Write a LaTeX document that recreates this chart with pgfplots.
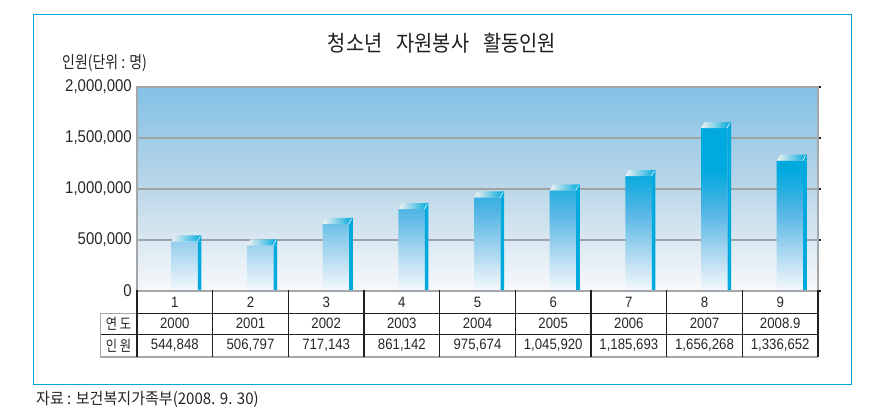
\documentclass[border=0pt]{standalone}
\usepackage{fontspec}
\usepackage{pgfplots}
\pgfplotsset{compat=1.18}
\usepackage{pgfplotstable}
\setmainfont{Liberation Sans}[FakeStretch=0.88]
\newfontfamily\kr{Noto Sans CJK KR}[FakeStretch=0.82]
\newfontfamily\krt{Noto Sans CJK KR}[FakeStretch=0.9]
\newfontfamily\krw{Noto Sans CJK KR}[FakeStretch=0.94]
\definecolor{framec}{HTML}{00A6DB}
\definecolor{barc}{HTML}{00A9DE}
\definecolor{barmid}{HTML}{4FB4E4}
\definecolor{barlow}{HTML}{A6D6EF}
\definecolor{barbot}{HTML}{F6F9FC}
\definecolor{bgtop}{HTML}{82C1E6}
\definecolor{bgmid}{HTML}{BCD7E8}
\definecolor{bgbot}{HTML}{F8F9FB}
\definecolor{gridc}{HTML}{9EA3A8}
\definecolor{axc}{HTML}{A5A8AB}
\definecolor{linec}{HTML}{231F20}

\pgfdeclareverticalshading{barshade}{100bp}{color(0bp)=(barbot); color(25bp)=(barbot); color(37.5bp)=(barlow); color(50bp)=(barmid); color(62bp)=(barc); color(75bp)=(barc); color(100bp)=(barc)}

\pgfplotstableread{
x v
1 544848
2 506797
3 717143
4 861142
5 975674
6 1045920
7 1185693
8 1656268
9 1336652
}\datatable

\pgfdeclareplotmark{cap}{%
  \shade[draw=none, left color=white!90!gray, right color=barc] (-3.5pt,-6pt) -- (23pt,-6pt) -- (26.6pt,0pt) -- (0.1pt,0pt) -- cycle;
  \fill[draw=none, barc] (23pt,-6pt) -- (26.6pt,0pt) -- (26.6pt,-6pt) -- cycle;
  \draw[white, line width=0.5pt] (22.5pt,-6pt) -- (25.5pt,-1pt);
}

\begin{document}
\begin{tikzpicture}[x=1pt,y=1pt]
\useasboundingbox (0,0) rectangle (893,413);
\draw[framec, line width=1.1pt] (33.3,398.7) rectangle (851.5,28.7);
\node[font=\krt\fontsize{22}{22}\selectfont, text=black!88] at (442,370) {청소년\hspace{14pt}자원봉사\hspace{14pt}활동인원};
\node[anchor=west, font=\kr\fontsize{17}{17}\selectfont, text=black!85, inner sep=0pt] at (62,350) {인원(단위 : 명)};
\begin{axis}[
  at={(137pt,122pt)}, anchor=south west,
  scale only axis, width=681pt, height=204pt,
  xmin=0.5, xmax=9.5, ymin=0, ymax=2000000,
  scaled y ticks=false,
  xtick=\empty,
  ytick={0,500000,1000000,1500000,2000000},
  yticklabels={0,{500,000},{1,000,000},{1,500,000},{2,000,000}},
  ytick pos=right, yticklabel pos=left,
  tick align=outside, major tick length=3pt,
  ytick style={linec, line width=1.2pt},
  yticklabel style={font=\fontsize{17}{17}\selectfont, text=black!85, inner sep=0pt, anchor=east, xshift=-2pt},
  ymajorgrids, grid style={gridc, line width=1.4pt},
  axis line style={axc, line width=1.2pt},
  axis background/.style={shade, top color=bgtop, bottom color=bgbot, middle color=bgmid},
  clip=false,
]
\addplot[ybar, bar width=26.5pt, bar shift=9.75pt, draw=none, shading=barshade] table[x=x, y expr=\thisrow{v}-58824] {\datatable};
\addplot[ybar, bar width=3.6pt, bar shift=24.8pt, draw=none, fill=barc] table[x=x, y expr=\thisrow{v}-58824] {\datatable};
\addplot[only marks, mark=cap] table[x=x, y=v] {\datatable};
\end{axis}
% table
\draw[axc, line width=2pt] (137,122) -- (818,122);
\draw[linec, line width=0.8pt] (137,100) -- (818,100);
\draw[linec, line width=0.8pt] (100,79) -- (818,79);
\draw[axc, line width=1.5pt] (100,56) -- (818,56);
\draw[axc, line width=1pt] (100,100) -- (137,100);
\draw[axc, line width=1pt] (100,100) -- (100,56);
\foreach \k in {0,...,9} {
  \draw[linec, line width=1.3pt] ({137+\k*75.667},123) -- ({137+\k*75.667},56);
}
\node[font=\kr\fontsize{15}{15}\selectfont, text=black!85] at (118.5,89.5) {연 도};
\node[font=\kr\fontsize{15}{15}\selectfont, text=black!85] at (118.5,67.5) {인 원};
\foreach \i/\yr/\val [count=\k from 0] in {1/2000/{544,848},2/2001/{506,797},3/2002/{717,143},4/2003/{861,142},5/2004/{975,674},6/2005/{1,045,920},7/2006/{1,185,693},8/2007/{1,656,268},9/2008.9/{1,336,652}} {
  \node[font=\fontsize{15}{15}\selectfont, text=black!85] at ({137+(\k+0.5)*75.667},111) {\i};
  \node[font=\fontsize{15}{15}\selectfont, text=black!85] at ({137+(\k+0.5)*75.667},89.5) {\yr};
  \node[font=\fontsize{15}{15}\selectfont, text=black!85] at ({137+(\k+0.5)*75.667},67.5) {\val};
}
\node[anchor=west, font=\krw\fontsize{16}{16}\selectfont, text=black!85, inner sep=0pt] at (36,13.5) {자료 : 보건복지가족부(2008. 9. 30)};
\end{tikzpicture}
\end{document}
